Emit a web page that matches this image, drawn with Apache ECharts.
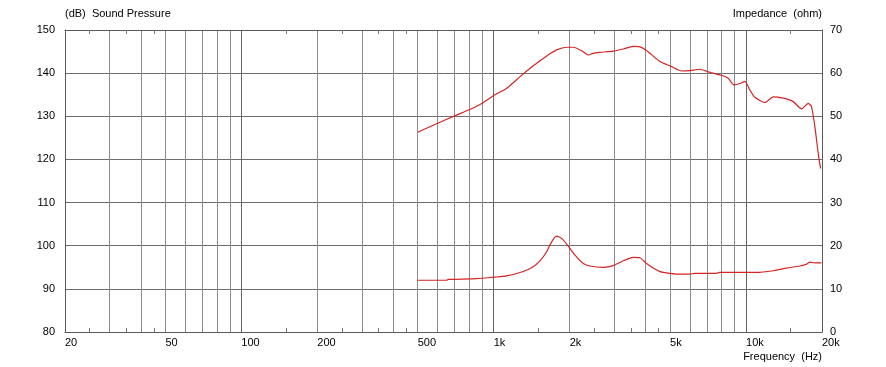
<!DOCTYPE html>
<html>
<head>
<meta charset="utf-8">
<script src="https://cdn.jsdelivr.net/npm/echarts@6/dist/echarts.min.js"></script>
<style>
  html, body { margin: 0; padding: 0; background: #fff; }
  #chart { width: 886px; height: 367px; }
</style>
</head>
<body>
<div id="chart"></div>
<script>
// sound pressure (dB)
const splFreq = [500, 600, 700, 800, 900, 1000, 1126, 1272, 1435, 1621, 1776, 1945, 2068, 2231, 2369, 2480, 2637, 2977, 3262, 3573, 3797,
  4000, 4158, 4556, 4991, 5552, 5990, 6561, 7189, 7996, 8499, 8950, 9453, 9895, 10355, 10840, 11880, 12818, 14040, 15380, 16600, 17640, 18180, 18740, 19320, 19740];
const splDb = [126.3, 128.4, 130.1, 131.5, 133.0, 134.8, 136.5, 139.2, 141.7, 144.0, 145.4, 146.0, 146.0, 145.2, 144.2, 144.6, 144.8, 145.1, 145.6, 146.2, 146.1,
  145.4, 144.6, 142.7, 141.7, 140.5, 140.6, 140.9, 140.2, 139.5, 138.8, 137.3, 137.6, 138.1, 136.1, 134.4, 133.2, 134.5, 134.2, 133.4, 131.7, 133.0, 132.2, 127.6, 121.4, 117.9];

// impedance (ohm)
const impFreq = [500, 651, 660, 856, 1000, 1126, 1272, 1414, 1526, 1621, 1696, 1776, 1858, 1975, 2099, 2265, 2407, 2719, 2977, 3262, 3573, 3797,
  4048, 4300, 4556, 4991, 5468, 5990, 6269, 7638, 7860, 11005, 12818, 14470, 16350, 17370, 17910, 18740, 19900];
const impOhm = [12.0, 12.0, 12.2, 12.35, 12.7, 13.0, 13.8, 14.9, 16.5, 18.6, 20.9, 22.2, 21.7, 19.9, 17.8, 15.9, 15.3, 15.0, 15.4, 16.5, 17.3, 17.2,
  15.8, 14.8, 14.0, 13.6, 13.4, 13.4, 13.6, 13.6, 13.8, 13.8, 14.2, 14.8, 15.3, 15.7, 16.2, 16.0, 16.0];

// axis ticks
const freqLabels = [20, 50, 100, 200, 500, 1000, 2000, 5000, 10000, 20000];
const gridFreqs = [30, 40, 50, 60, 70, 80, 90, 200, 300, 400, 500, 600, 700, 800, 900, 2000, 3000, 4000, 5000, 6000, 7000, 8000, 9000];
const decadeFreqs = [100, 1000, 10000];
const minorFreqs = [25, 35, 45, 150, 250, 350, 450, 1500, 2500, 3500, 4500, 15000];

const lg = v => Math.log10(v);
const xMin = lg(20), xMax = lg(20000);
const font = 'Liberation Sans, Arial, sans-serif';

function fmtFreq(v) {
  const f = Math.round(Math.pow(10, v));
  return f >= 1000 ? (f / 1000) + 'k' : String(f);
}

const chart = echarts.init(document.getElementById('chart'), null, { renderer: 'canvas' });

const baseX = {
  type: 'value',
  min: xMin,
  max: xMax,
  axisLabel: { show: false },
  axisTick: { show: false },
  axisLine: { show: false },
  splitLine: { show: false }
};

const option = {
  animation: false,
  backgroundColor: '#fff',
  textStyle: { fontFamily: font },
  grid: { left: 65, right: 64, top: 30, bottom: 35 },
  xAxis: [
    Object.assign({}, baseX, {
      position: 'bottom',
      axisLine: { show: true, onZero: false, lineStyle: { color: '#5a5a5a', width: 1 } },
      axisTick: { show: false, customValues: gridFreqs.map(lg) },
      splitLine: { show: true, lineStyle: { color: '#8c8c8c', width: 1 } },
      axisLabel: {
        show: true,
        customValues: freqLabels.map(lg),
        formatter: fmtFreq,
        align: 'left',
        margin: 5,
        color: '#000',
        fontSize: 11,
        fontFamily: font
      },
      name: 'Frequency  (Hz)',
      nameLocation: 'end',
      nameGap: 0,
      nameTextStyle: { align: 'right', verticalAlign: 'top', padding: [19, 0, 0, 0], color: '#000', fontSize: 11, fontFamily: font }
    }),
    Object.assign({}, baseX, {
      position: 'bottom',
      axisTick: { show: false, customValues: decadeFreqs.map(lg) },
      splitLine: { show: true, lineStyle: { color: '#666', width: 1 } }
    }),
    Object.assign({}, baseX, {
      position: 'top',
      axisLine: { show: true, onZero: false, lineStyle: { color: '#5a5a5a', width: 1 } },
      axisTick: { show: true, inside: true, length: 4, customValues: minorFreqs.map(lg), lineStyle: { color: '#777' } }
    }),
    Object.assign({}, baseX, {
      position: 'bottom',
      axisTick: { show: true, inside: true, length: 4, customValues: minorFreqs.map(lg), lineStyle: { color: '#777' } }
    })
  ],
  yAxis: [
    {
      type: 'value',
      min: 80,
      max: 150,
      interval: 10,
      position: 'left',
      name: '(dB)  Sound Pressure',
      nameLocation: 'end',
      nameGap: 11,
      nameTextStyle: { align: 'left', color: '#000', fontSize: 11, fontFamily: font },
      axisLine: { show: true, lineStyle: { color: '#5a5a5a', width: 1 } },
      axisTick: { show: false },
      splitLine: { show: true, lineStyle: { color: '#6e6e6e', width: 1 } },
      axisLabel: { color: '#000', fontSize: 11, margin: 10, fontFamily: font }
    },
    {
      type: 'value',
      min: 0,
      max: 70,
      interval: 10,
      position: 'right',
      name: 'Impedance  (ohm)',
      nameLocation: 'end',
      nameGap: 11,
      nameTextStyle: { align: 'right', color: '#000', fontSize: 11, fontFamily: font },
      axisLine: { show: true, lineStyle: { color: '#5a5a5a', width: 1 } },
      axisTick: { show: false },
      splitLine: { show: false },
      axisLabel: { color: '#000', fontSize: 11, margin: 8, fontFamily: font }
    }
  ],
  series: [
    {
      name: 'Sound Pressure',
      type: 'line',
      xAxisIndex: 0,
      yAxisIndex: 0,
      showSymbol: false,
      smooth: 0.2,
      lineStyle: { color: '#d42424', width: 1.2 },
      data: splFreq.map((f, i) => [lg(f), splDb[i]])
    },
    {
      name: 'Impedance',
      type: 'line',
      xAxisIndex: 0,
      yAxisIndex: 1,
      showSymbol: false,
      smooth: 0.2,
      lineStyle: { color: '#d42424', width: 1.2 },
      data: impFreq.map((f, i) => [lg(f), impOhm[i]])
    }
  ]
};

chart.setOption(option);
</script>
</body>
</html>
